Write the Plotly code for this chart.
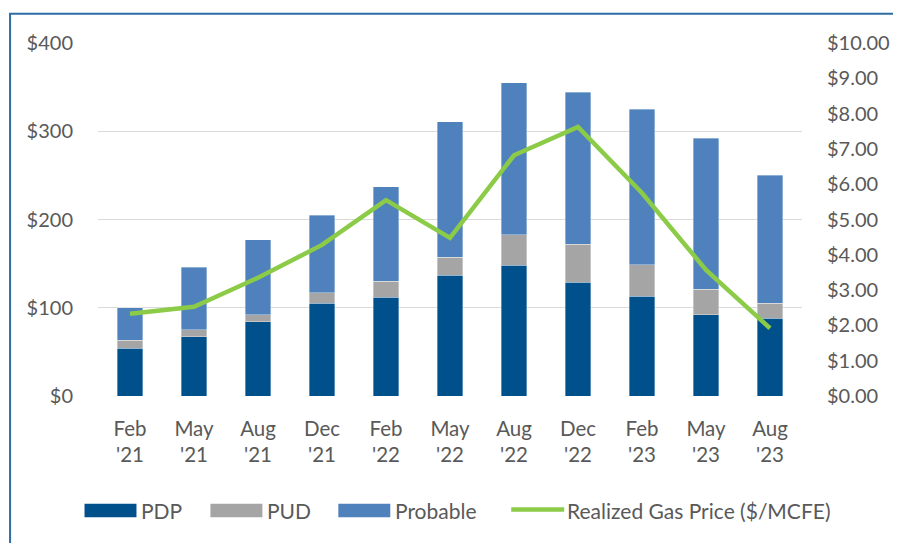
import plotly.graph_objects as go

# data
dates = ["Feb<br>'21", "May<br>'21", "Aug<br>'21", "Dec<br>'21", "Feb<br>'22", "May<br>'22",
         "Aug<br>'22", "Dec<br>'22", "Feb<br>'23", "May<br>'23", "Aug<br>'23"]
pdp = [54, 67, 84, 105, 112, 137, 148, 129, 113, 92, 88]
pud = [9, 8, 8, 12, 18, 20, 35, 43, 36, 29, 17]
probable = [37, 71, 85, 88, 107, 154, 172, 172, 176, 171, 145]
gas_price = [2.33, 2.53, 3.35, 4.28, 5.55, 4.48, 6.82, 7.62, 5.75, 3.57, 1.92]

C_PDP = "#00508C"
C_PUD = "#A5A5A5"
C_PROB = "#4F81BD"
C_GAS = "#8CCB47"
TXT = "#595959"
FONT = "Lato"

# the page body adds an 8px margin, so work in screen pixels and shift
OFF = 8
W, H = 901 - OFF, 543 - OFF
L, R, T, B = 97.5 - OFF, 802 - OFF, 42.7 - OFF, 396.3 - OFF


def px(x):
    return (x - OFF - L) / (R - L)


def py(y):
    return (B - (y - OFF)) / (B - T)


fig = go.Figure()
bar_line = dict(color="rgba(255,255,255,0.5)", width=0.7)
fig.add_bar(x=dates, y=pdp, name="PDP", marker=dict(color=C_PDP, line=bar_line))
fig.add_bar(x=dates, y=pud, name="PUD", marker=dict(color=C_PUD, line=bar_line))
fig.add_bar(x=dates, y=probable, name="Probable", marker=dict(color=C_PROB, line=bar_line))
fig.add_scatter(x=dates, y=gas_price, name="Realized Gas Price ($/MCFE)", yaxis="y2",
                mode="lines", line=dict(color=C_GAS, width=4.5))

# custom legend (wide swatches like the original)
shapes = []
annotations = []
for x0, x1, col, label in [(84, 136, C_PDP, "PDP"), (210, 262, C_PUD, "PUD"),
                           (338, 390, C_PROB, "Probable")]:
    shapes.append(dict(type="rect", xref="paper", yref="paper", x0=px(x0), x1=px(x1),
                       y0=py(517.7), y1=py(504.3), fillcolor=col, line=dict(width=0)))
    annotations.append(dict(xref="paper", yref="paper", x=px(x1 + 3), y=py(510.5),
                            text=label, showarrow=False, xanchor="left", yanchor="middle",
                            font=dict(family=FONT, size=21, color=TXT)))
shapes.append(dict(type="line", xref="paper", yref="paper", x0=px(511), x1=px(564),
                   y0=py(510), y1=py(510), line=dict(color=C_GAS, width=4.5)))
annotations.append(dict(xref="paper", yref="paper", x=px(565), y=py(510.5),
                        text="Realized Gas Price ($/MCFE)", showarrow=False,
                        xanchor="left", yanchor="middle",
                        font=dict(family=FONT, size=21, color=TXT)))

# outer frame, cut off on the right and bottom as in the reference
shapes.append(dict(type="rect", xref="paper", yref="paper", x0=px(9.5), x1=px(901 + 10),
                   y0=py(543 + 10), y1=py(13.5), line=dict(color="#2E6DA4", width=2),
                   fillcolor="rgba(0,0,0,0)", layer="below"))

fig.update_layout(
    width=W, height=H,
    margin=dict(l=L, r=W - R, t=T, b=H - B, autoexpand=False),
    barmode="stack", bargap=0.6,
    plot_bgcolor="white", paper_bgcolor="white",
    showlegend=False,
    font=dict(family=FONT, size=20, color=TXT),
    xaxis=dict(showgrid=False, showline=False, ticks="outside", ticklen=14,
               tickcolor="rgba(0,0,0,0)", tickfont=dict(size=20.5)),
    yaxis=dict(range=[0, 400], dtick=100, tickprefix="$", showgrid=True,
               gridcolor="#D9D9D9", gridwidth=1.3, zeroline=False,
               ticks="outside", ticklen=20, tickcolor="rgba(0,0,0,0)"),
    yaxis2=dict(range=[0, 10], dtick=1, tickprefix="$", tickformat=".2f",
                overlaying="y", side="right", showgrid=False, zeroline=False,
                ticks="outside", ticklen=20, tickcolor="rgba(0,0,0,0)"),
    shapes=shapes, annotations=annotations,
)

fig.write_html("out.html")
